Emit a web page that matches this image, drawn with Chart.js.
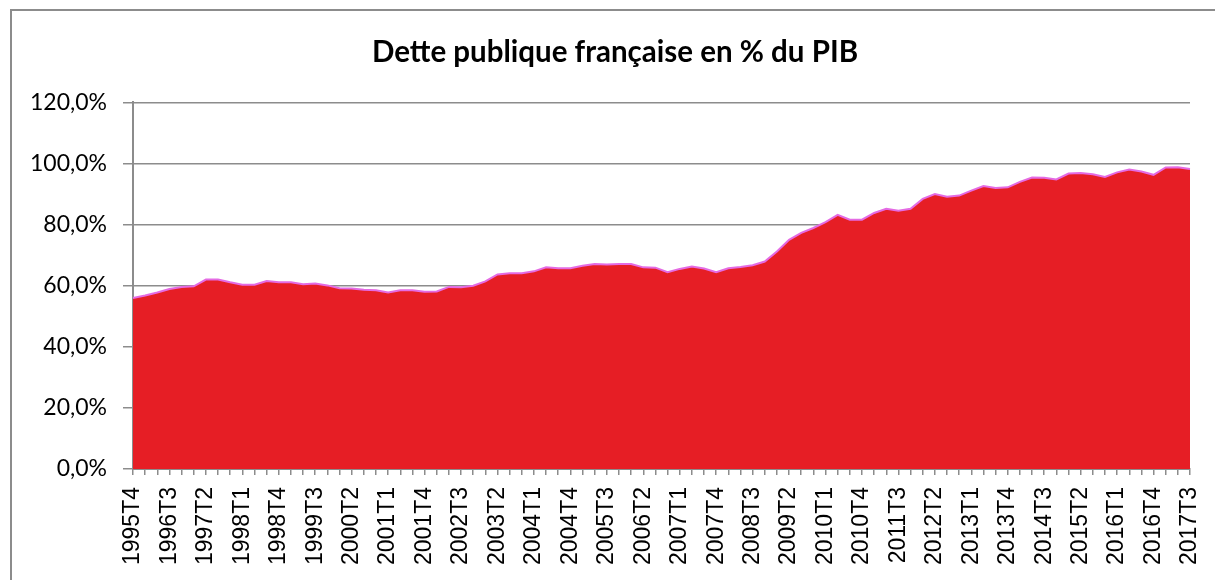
<!DOCTYPE html>
<html>
<head>
<meta charset="utf-8">
<script src="https://cdn.jsdelivr.net/npm/chart.js@4"></script>
<style>
  html, body { margin: 0; padding: 0; background: #fff; overflow: hidden; }
  #frame { position: absolute; left: 10px; top: 9px; width: 1300px; height: 700px; border: 2px solid #8c8c8c; }
  #debtChart { position: absolute; left: 0; top: 0; }
</style>
</head>
<body>
<div id="frame"></div>
<canvas id="debtChart" width="1230" height="580"></canvas>
<script>
// Quarters from 1995T4 to 2017T3
const quarters = [
    "1995T4",
    "1996T1", "1996T2", "1996T3", "1996T4",
    "1997T1", "1997T2", "1997T3", "1997T4",
    "1998T1", "1998T2", "1998T3", "1998T4",
    "1999T1", "1999T2", "1999T3", "1999T4",
    "2000T1", "2000T2", "2000T3", "2000T4",
    "2001T1", "2001T2", "2001T3", "2001T4",
    "2002T1", "2002T2", "2002T3", "2002T4",
    "2003T1", "2003T2", "2003T3", "2003T4",
    "2004T1", "2004T2", "2004T3", "2004T4",
    "2005T1", "2005T2", "2005T3", "2005T4",
    "2006T1", "2006T2", "2006T3", "2006T4",
    "2007T1", "2007T2", "2007T3", "2007T4",
    "2008T1", "2008T2", "2008T3", "2008T4",
    "2009T1", "2009T2", "2009T3", "2009T4",
    "2010T1", "2010T2", "2010T3", "2010T4",
    "2011T1", "2011T2", "2011T3", "2011T4",
    "2012T1", "2012T2", "2012T3", "2012T4",
    "2013T1", "2013T2", "2013T3", "2013T4",
    "2014T1", "2014T2", "2014T3", "2014T4",
    "2015T1", "2015T2", "2015T3", "2015T4",
    "2016T1", "2016T2", "2016T3", "2016T4",
    "2017T1", "2017T2", "2017T3"
];

// Debt in % of GDP
const debtRatio = [
    56.0, 56.8, 57.8, 58.9, 59.6, 59.8, 62.0, 62.0, 61.1, 60.3,
    60.3, 61.5, 61.1, 61.1, 60.5, 60.7, 60.1, 59.2, 59.1, 58.7,
    58.5, 57.8, 58.5, 58.5, 58.0, 58.1, 59.6, 59.5, 60.0,
    61.4, 63.7, 64.1, 64.1, 64.7, 66.0, 65.7, 65.7, 66.5, 67.1,
    66.9, 67.1, 67.1, 66.0, 65.9, 64.4, 65.5, 66.3, 65.6, 64.4,
    65.7, 66.1, 66.7, 67.9, 71.2, 75.0,
    77.3, 78.9, 80.8, 83.2, 81.6, 81.6, 83.8, 85.2, 84.5, 85.2,
    88.4, 90.0, 89.1, 89.5, 91.1, 92.6, 92.0, 92.2, 94.0, 95.4,
    95.3, 94.8, 96.7, 96.9, 96.5, 95.6, 97.1, 98.0, 97.4, 96.3,
    98.7, 98.8, 98.2
];

// Y axis ticks
const yTicks = [0, 20, 40, 60, 80, 100, 120];

const labelEvery = 3;
const axisGrey = "#8c8c8c";

const ctx = document.getElementById("debtChart").getContext("2d");

new Chart(ctx, {
    type: "line",
    data: {
        labels: quarters,
        datasets: [{
            label: "Dette publique",
            data: debtRatio,
            backgroundColor: "#e61e25",
            borderColor: "#e46be4",
            borderWidth: 2,
            pointRadius: 0,
            tension: 0,
            fill: "origin"
        }]
    },
    options: {
        responsive: false,
        animation: false,
        devicePixelRatio: 1,
        layout: { padding: { left: 0, right: 0, top: 0, bottom: 0 } },
        plugins: {
            legend: { display: false },
            tooltip: { enabled: false },
            title: {
                display: true,
                text: "Dette publique française en % du PIB",
                color: "#000",
                font: { family: "Lato", size: 29.5, weight: "bold", lineHeight: 1.2 },
                padding: { top: 35, bottom: 32 }
            }
        },
        scales: {
            x: {
                offset: false,
                border: { display: true, color: axisGrey, width: 2 },
                grid: {
                    drawOnChartArea: false,
                    drawTicks: true,
                    tickLength: 6,
                    color: axisGrey,
                    lineWidth: 1.5
                },
                ticks: {
                    autoSkip: false,
                    maxRotation: 90,
                    minRotation: 90,
                    padding: 12,
                    color: "#000",
                    font: { family: "Liberation Sans", size: 23 },
                    callback: function(value, index) {
                        return index % labelEvery === 0 ? quarters[index] : "";
                    }
                },
                afterFit: function(scale) {
                    scale.height = 111;
                    scale.paddingLeft = 0;
                    scale.paddingRight = 0;
                }
            },
            y: {
                min: 0,
                max: 120,
                afterBuildTicks: function(scale) {
                    scale.ticks = yTicks.map(v => ({ value: v }));
                },
                border: { display: true, color: axisGrey, width: 2 },
                grid: {
                    color: axisGrey,
                    lineWidth: 1.5,
                    tickLength: 10
                },
                ticks: {
                    padding: 16,
                    color: "#000",
                    font: { family: "Lato", size: 23 },
                    callback: function(value) {
                        return value.toFixed(1).replace(".", ",") + "%";
                    }
                },
                afterFit: function(scale) { scale.width = 133; }
            },
            // empty right-hand box so the title sits where it does in the original
            spacer: {
                type: "linear",
                position: "right",
                display: true,
                grid: { display: false },
                border: { display: false },
                ticks: { display: false },
                afterFit: function(scale) { scale.width = 40; }
            }
        }
    }
});
</script>
</body>
</html>
